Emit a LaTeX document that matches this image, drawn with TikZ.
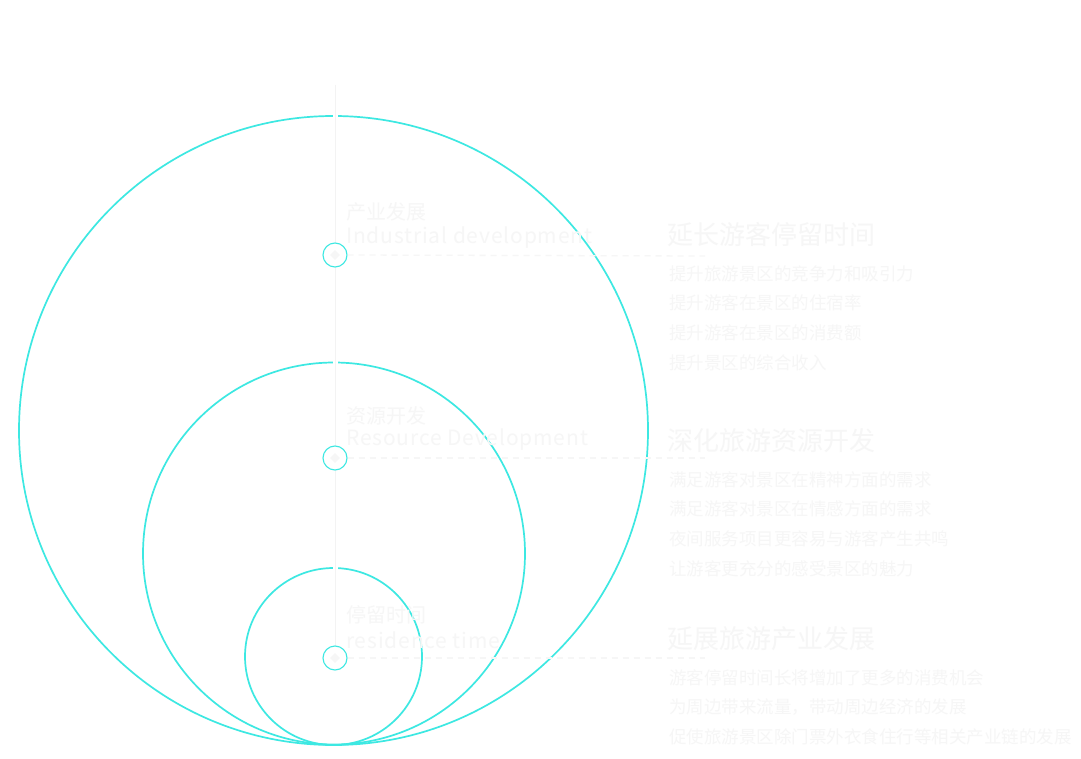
\documentclass[tikz,border=0pt]{standalone}
\usepackage{fontspec}
\setmainfont{Noto Sans CJK SC}
\newfontfamily\widelatin[LetterSpace=4]{Noto Sans CJK SC}
\usetikzlibrary{shapes.geometric}
\definecolor{ringcyan}{HTML}{3DE8E2}
\definecolor{faint}{HTML}{F6F6F6}
\definecolor{axisgray}{HTML}{F3F3F3}

\begin{document}
\begin{tikzpicture}[x=1pt,y=-1pt]
 \tikzstyle{ring}=[draw=ringcyan,line width=1.7pt]
 \tikzstyle{marker}=[circle,draw=ringcyan,fill=white,line width=1.1pt,minimum
 size=24pt,inner sep=0pt]
 \tikzstyle{gem}=[diamond,fill=faint,minimum size=10pt,inner sep=0pt]
 \tikzstyle{guide}=[draw=faint,line width=1.3pt,dash pattern=on 6pt off 5pt]
 \tikzstyle{leftcn}=[anchor=west,inner sep=0pt,text=faint,font=\fontsize{20}{20}\selectfont]
 \tikzstyle{lefte}=[anchor=west,inner sep=0pt,text=faint,font=\widelatin\fontsize{21}{21}\selectfont]
 \tikzstyle{head}=[anchor=west,inner sep=0pt,text=faint,font=\fontsize{26}{26}\selectfont]
 \tikzstyle{item}=[anchor=west,inner sep=0pt,text=faint,font=\fontsize{17.5}{17.5}\selectfont]
\useasboundingbox (0,0) rectangle (1081,759);
\fill[white] (0,0) rectangle (1081,759);
% nested rings
\draw[ring] (333.5,430.5) circle [radius=314.5pt];
\draw[ring] (334,553.5) circle [radius=191pt];
\draw[ring] (333.5,656.5) circle [radius=88.5pt];
% axis
\coordinate (top) at (335,85);
\coordinate (bot) at (335,658);
\draw[white,line width=5pt] (top) -- (bot);
\draw[axisgray,line width=1pt] (top) -- (bot);
% markers
\node[marker] (m1) at (335,255) {};
\node[marker] (m2) at (335,458) {};
\node[marker] (m3) at (335,658) {};
\node[gem] at (m1) {};
\node[gem] at (m2) {};
\node[gem] at (m3) {};
\coordinate (e1) at (705,256);
\coordinate (e2) at (705,458);
\coordinate (e3) at (705,658);
\draw[guide] (m1.east) -- (e1);
\draw[guide] (m2.east) -- (e2);
\draw[guide] (m3.east) -- (e3);
% left labels
\node[leftcn] (c1) at (346,212) {产业发展};
\node[lefte] (n1) at (346,238) {Industrial development};
\node[leftcn] (c2) at (346,416) {资源开发};
\node[lefte] (n2) at (346,440) {Resource Development};
\node[leftcn] (c3) at (346,615) {停留时间};
\node[lefte] (n3) at (346,640) {residence time};
% right texts
\node[head] (h1) at (667,235) {延长游客停留时间};
\node[item] at (669,274) {提升旅游景区的竞争力和吸引力};
\node[item] at (669,303) {提升游客在景区的住宿率};
\node[item] at (669,333) {提升游客在景区的消费额};
\node[item] at (669,363) {提升景区的综合收入};
\node[head] (h2) at (667,441) {深化旅游资源开发};
\node[item] at (669,480) {满足游客对景区在精神方面的需求};
\node[item] at (669,509) {满足游客对景区在情感方面的需求};
\node[item] at (669,539) {夜间服务项目更容易与游客产生共鸣};
\node[item] at (669,569) {让游客更充分的感受景区的魅力};
\node[head] (h3) at (667,639) {延展旅游产业发展};
\node[item] at (669,678) {游客停留时间长将增加了更多的消费机会};
\node[item] at (669,707) {为周边带来流量，带动周边经济的发展};
\node[item] at (669,737) {促使旅游景区除门票外衣食住行等相关产业链的发展};
\end{tikzpicture}
\end{document}
